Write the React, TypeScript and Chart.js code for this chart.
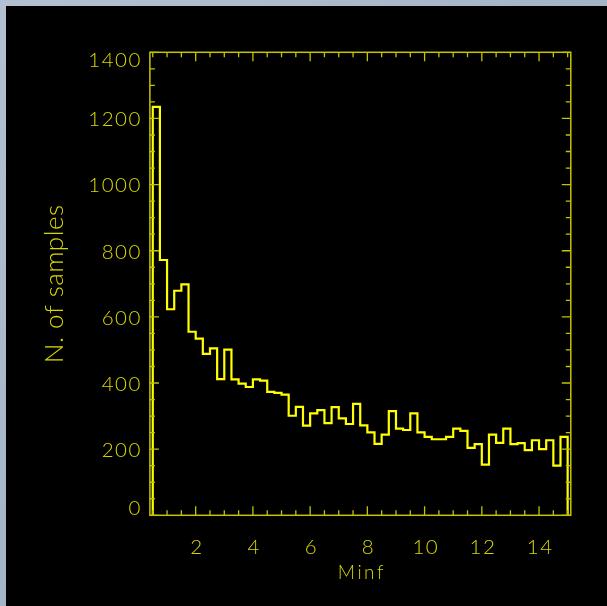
import { useEffect, useRef } from "react";
import { Chart, registerables } from "chart.js";

Chart.register(...registerables);

// Histogram of Minf: bins start at 0.5 and are 0.25 wide
const binStart = 0.5;
const binWidth = 0.25;
const counts = [
  1235, 772, 623, 679, 698, 555, 534, 488, 505, 412,
  501, 411, 398, 388, 411, 407, 373, 370, 365, 301,
  328, 271, 308, 318, 279, 327, 293, 276, 337, 272,
  251, 216, 244, 315, 262, 258, 308, 251, 237, 230,
  230, 237, 262, 255, 204, 215, 153, 244, 219, 262,
  215, 218, 197, 227, 200, 227, 150, 237,
];

const xRange = [0.4, 15.11];
const yRange = [0, 1400];
const xTickLabels = [2, 4, 6, 8, 10, 12, 14];
const yTickLabels = [0, 200, 400, 600, 800, 1000, 1200, 1400];
const xMinorStep = 0.5;
const yMinorStep = 50;
const xTitle = "Minf";
const yTitle = "N. of samples";

const LINE_COLOR = "#ffff00";
const AXIS_COLOR = "#c4c400";
const TEXT_COLOR = "#d8d800";
const FONT_FAMILY = 'Lato, "DejaVu Sans", sans-serif';

// Outline of the histogram: rise at the first edge, one step per bin, drop at the last edge
function histogramOutline() {
  const pts: { x: number; y: number }[] = [{ x: binStart, y: 0 }];
  counts.forEach((c, i) => pts.push({ x: binStart + i * binWidth, y: c }));
  const end = binStart + counts.length * binWidth;
  pts.push({ x: end, y: counts[counts.length - 1] });
  pts.push({ x: end, y: 0 });
  return pts;
}

function isMultiple(v: number, step: number) {
  const r = v / step;
  return Math.abs(r - Math.round(r)) < 1e-6;
}

// Boxed frame with inward ticks on all four sides, plus tick labels and titles
const boxAxes = {
  id: "boxAxes",
  afterDraw(chart: any) {
    const { ctx } = chart;
    const xs = chart.scales.x;
    const ys = chart.scales.y;
    const L = xs.getPixelForValue(xRange[0]);
    const R = xs.getPixelForValue(xRange[1]);
    const T = ys.getPixelForValue(yRange[1]);
    const B = ys.getPixelForValue(yRange[0]);

    ctx.save();
    ctx.strokeStyle = AXIS_COLOR;
    ctx.lineWidth = 1.5;
    ctx.strokeRect(L, T, R - L, B - T);

    ctx.lineWidth = 1.3;
    ctx.beginPath();
    const xMajorStep = xTickLabels[1] - xTickLabels[0];
    for (let v = Math.ceil(xRange[0] / xMinorStep) * xMinorStep; v <= xRange[1] + 1e-9; v += xMinorStep) {
      const px = xs.getPixelForValue(v);
      const len = isMultiple(v, xMajorStep) ? 9 : 5;
      ctx.moveTo(px, B);
      ctx.lineTo(px, B - len);
      ctx.moveTo(px, T);
      ctx.lineTo(px, T + len);
    }
    const yMajorStep = yTickLabels[1] - yTickLabels[0];
    for (let v = Math.ceil(yRange[0] / yMinorStep) * yMinorStep; v <= yRange[1] + 1e-9; v += yMinorStep) {
      const py = ys.getPixelForValue(v);
      const len = isMultiple(v, yMajorStep) ? 9 : 5;
      ctx.moveTo(L, py);
      ctx.lineTo(L + len, py);
      ctx.moveTo(R, py);
      ctx.lineTo(R - len, py);
    }
    ctx.stroke();

    ctx.fillStyle = TEXT_COLOR;
    ctx.font = `300 20.5px ${FONT_FAMILY}`;
    (ctx as any).letterSpacing = "1.5px";
    const capH = 14.6;

    // y tick labels, kept inside the frame's vertical extent
    ctx.textAlign = "right";
    ctx.textBaseline = "alphabetic";
    yTickLabels.forEach((v) => {
      const py = ys.getPixelForValue(v);
      const base = Math.min(B, Math.max(T + capH + 0.5, py + capH / 2 + 0.5));
      ctx.fillText(String(v), L - 8, base);
    });

    // x tick labels
    ctx.textAlign = "center";
    xTickLabels.forEach((v) => {
      const px = xs.getPixelForValue(v);
      ctx.fillText(String(v), px + 1.2, B + 39);
    });

    // x title
    ctx.font = `300 19px ${FONT_FAMILY}`;
    (ctx as any).letterSpacing = "2.5px";
    ctx.fillText(xTitle, (L + R) / 2 + 1.5, B + 64);

    // y title, rotated
    ctx.font = `300 26px ${FONT_FAMILY}`;
    (ctx as any).letterSpacing = "0.5px";
    ctx.translate(57, (T + B) / 2);
    ctx.rotate(-Math.PI / 2);
    ctx.textAlign = "center";
    ctx.fillText(yTitle, 0, 0);
    ctx.restore();
  },
};

export default function App() {
  const ref = useRef<HTMLCanvasElement>(null);

  useEffect(() => {
    document.body.style.margin = "0";
    const chart = new Chart(ref.current as HTMLCanvasElement, {
      type: "line",
      data: {
        datasets: [
          {
            data: histogramOutline(),
            stepped: true,
            borderColor: LINE_COLOR,
            borderWidth: 2.2,
            pointRadius: 0,
            fill: false,
          },
        ],
      },
      options: {
        animation: false,
        responsive: false,
        events: [],
        layout: { padding: { left: 143.9, right: 36.2, top: 46.3, bottom: 90.7 } },
        scales: {
          x: { type: "linear", min: xRange[0], max: xRange[1], display: false },
          y: { type: "linear", min: yRange[0], max: yRange[1], display: false },
        },
        plugins: { legend: { display: false }, tooltip: { enabled: false } },
      },
      plugins: [boxAxes],
    });
    return () => chart.destroy();
  }, []);

  return (
    <div
      style={{
        position: "fixed",
        left: 0,
        top: 0,
        width: 607,
        height: 606,
        overflow: "hidden",
        background: "linear-gradient(135deg, #b2c0d2 0%, #a4b4c8 50%, #acbbce 100%)",
      }}
    >
      <canvas
        ref={ref}
        width={601}
        height={600}
        style={{ position: "absolute", left: 6, top: 6, width: 601, height: 600, background: "#000" }}
      />
    </div>
  );
}
